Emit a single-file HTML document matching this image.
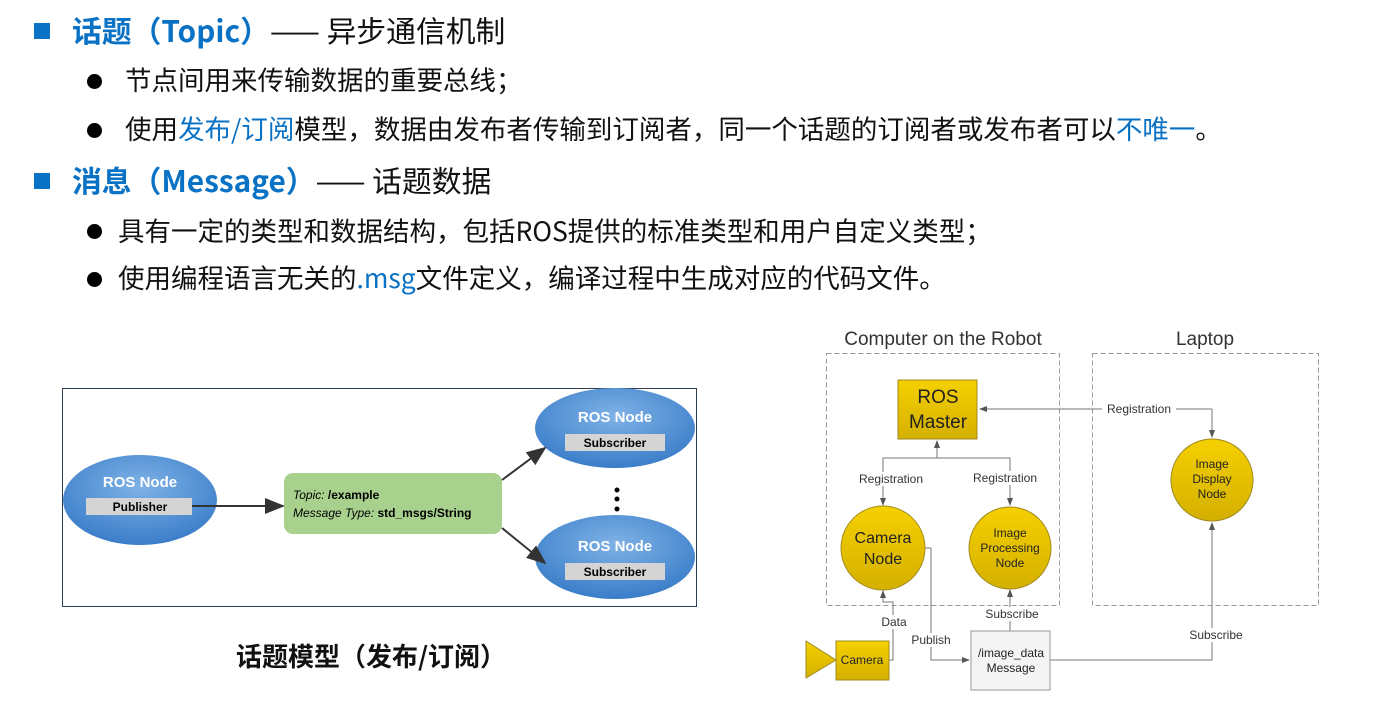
<!DOCTYPE html>
<html><head><meta charset="utf-8"><style>
body{margin:0;width:1387px;height:707px;background:#fff;position:relative;overflow:hidden;font-family:"Noto Sans CJK SC",sans-serif;color:#111}
.t{position:absolute;white-space:nowrap;line-height:1}
.h{font-size:29.8px;}
.b{color:#0a72c4;font-weight:bold}
.bl{color:#0a72c4}
.s{font-size:26.5px;}
.sq{position:absolute;width:16px;height:16px;background:#0a72c4}
.dot{position:absolute;width:15px;height:15px;border-radius:50%;background:#000}
</style></head><body>
<div class="sq" style="left:34px;top:23px"></div>
<div class="t h" style="left:72px;top:15px"><span class="b">话题（Topic）</span>—— 异步通信机制</div>
<div class="dot" style="left:87px;top:74px"></div>
<div class="t s" style="left:125px;top:66px">节点间用来传输数据的重要总线；</div>
<div class="dot" style="left:87px;top:123px"></div>
<div class="t s" style="left:125px;top:115px">使用<span class="bl">发布/订阅</span>模型，数据由发布者传输到订阅者，同一个话题的订阅者或发布者可以<span class="bl">不唯一</span>。</div>
<div class="sq" style="left:34px;top:173px"></div>
<div class="t h" style="left:72px;top:165px"><span class="b">消息（Message）</span>—— 话题数据</div>
<div class="dot" style="left:87px;top:224px"></div>
<div class="t s" style="left:118px;top:217px">具有一定的类型和数据结构，包括ROS提供的标准类型和用户自定义类型；</div>
<div class="dot" style="left:87px;top:272px"></div>
<div class="t s" style="left:118px;top:264px">使用编程语言无关的<span class="bl">.msg</span>文件定义，编译过程中生成对应的代码文件。</div>
<div class="t" style="left:236px;top:643px;font-size:26px;font-weight:bold">话题模型（发布/订阅）</div>

<svg width="1387" height="707" style="position:absolute;left:0;top:0" font-family="Liberation Sans, sans-serif">
<defs>
<radialGradient id="bg" cx="50%" cy="35%" r="65%"><stop offset="0" stop-color="#7fb2e6"/><stop offset="1" stop-color="#3a7dc9"/></radialGradient>
<linearGradient id="yg" x1="0" y1="0" x2="0" y2="1"><stop offset="0" stop-color="#f5d000"/><stop offset="1" stop-color="#d4b000"/></linearGradient>
<marker id="a" markerWidth="10" markerHeight="8" refX="9" refY="4" orient="auto"><path d="M0,0L10,4L0,8z" fill="#333"/></marker>
<marker id="g" markerWidth="8" markerHeight="8" refX="7" refY="4" orient="auto"><path d="M0,1L8,4L0,7z" fill="#555"/></marker>
</defs>
<rect x="62.5" y="388.5" width="634" height="218" fill="#fff" stroke="#2c3e50" stroke-width="1"/>
<ellipse cx="140" cy="500" rx="77" ry="45" fill="url(#bg)"/>
<ellipse cx="615" cy="428" rx="80" ry="40" fill="url(#bg)"/>
<ellipse cx="615" cy="557" rx="80" ry="42" fill="url(#bg)"/>
<text x="140" y="487" text-anchor="middle" fill="#fff" font-weight="bold" font-size="15">ROS Node</text>
<text x="615" y="422" text-anchor="middle" fill="#fff" font-weight="bold" font-size="15">ROS Node</text>
<text x="615" y="551" text-anchor="middle" fill="#fff" font-weight="bold" font-size="15">ROS Node</text>
<rect x="86" y="498" width="106" height="17" fill="#d4d4d4"/>
<text x="140" y="511" text-anchor="middle" font-weight="bold" font-size="12">Publisher</text>
<rect x="565" y="434" width="100" height="17" fill="#d4d4d4"/>
<text x="615" y="447" text-anchor="middle" font-weight="bold" font-size="12">Subscriber</text>
<rect x="565" y="563" width="100" height="17" fill="#d4d4d4"/>
<text x="615" y="576" text-anchor="middle" font-weight="bold" font-size="12">Subscriber</text>
<rect x="284" y="473" width="218" height="61" rx="9" fill="#a9d18e"/>
<text x="293" y="499" font-size="12"><tspan font-style="italic">Topic:  </tspan><tspan font-weight="bold">/example</tspan></text>
<text x="293" y="517" font-size="12"><tspan font-style="italic">Message Type:  </tspan><tspan font-weight="bold">std_msgs/String</tspan></text>
<line x1="192" y1="506" x2="283" y2="506" stroke="#333" stroke-width="2" marker-end="url(#a)"/>
<line x1="502" y1="480" x2="545" y2="448" stroke="#333" stroke-width="2" marker-end="url(#a)"/>
<line x1="502" y1="528" x2="545" y2="563" stroke="#333" stroke-width="2" marker-end="url(#a)"/>
<circle cx="617" cy="490" r="2.5" fill="#000"/><circle cx="617" cy="499" r="2.5" fill="#000"/><circle cx="617" cy="509" r="2.5" fill="#000"/>
<g fill="none" stroke="#999" stroke-dasharray="5,3"><rect x="826.5" y="353.5" width="233" height="252"/><rect x="1092.5" y="353.5" width="226" height="252"/></g>
<text x="943" y="345" text-anchor="middle" font-size="19" fill="#333">Computer on the Robot</text>
<text x="1205" y="345" text-anchor="middle" font-size="19" fill="#333">Laptop</text>
<g stroke="#777" fill="none">
<polyline points="1212,409 980,409" marker-end="url(#g)"/>
<polyline points="937,458 937,441" marker-end="url(#g)"/>
<polyline points="883,505 883,458 1010,458 1010,504" />
<line x1="883" y1="490" x2="883" y2="505" marker-end="url(#g)"/>
<line x1="1010" y1="490" x2="1010" y2="505" marker-end="url(#g)"/>
<line x1="1212" y1="409" x2="1212" y2="437" marker-end="url(#g)"/>
<polyline points="889,660 893,660 893,602 883,602 883,591" marker-end="url(#g)"/>
<polyline points="924,548 931,548 931,660 969,660" marker-end="url(#g)"/>
<polyline points="1010,631 1010,590" marker-end="url(#g)"/>
<polyline points="1050,660 1212,660 1212,523" marker-end="url(#g)"/>
</g>
<g font-size="12" fill="#333" text-anchor="middle">
<rect x="1102" y="402" width="74" height="14" fill="#fff"/>
<text x="1139" y="413">Registration</text>
<rect x="853" y="472" width="76" height="14" fill="#fff"/>
<text x="891" y="483">Registration</text>
<rect x="966" y="471" width="76" height="14" fill="#fff"/>
<text x="1005" y="482">Registration</text>
<rect x="879" y="615" width="30" height="14" fill="#fff"/>
<text x="894" y="626">Data</text>
<rect x="910" y="633" width="44" height="14" fill="#fff"/>
<text x="931" y="644">Publish</text>
<rect x="984" y="607" width="54" height="14" fill="#fff"/>
<text x="1012" y="618">Subscribe</text>
<rect x="1186" y="628" width="54" height="14" fill="#fff"/>
<text x="1216" y="639">Subscribe</text>
</g>
<rect x="898" y="380" width="79" height="59" fill="url(#yg)" stroke="#a08a20"/>
<text x="938" y="403" text-anchor="middle" font-size="19" fill="#222">ROS</text>
<text x="938" y="428" text-anchor="middle" font-size="19" fill="#222">Master</text>
<circle cx="883" cy="548" r="42" fill="url(#yg)" stroke="#a08a20"/>
<text x="883" y="543" text-anchor="middle" font-size="16" fill="#222">Camera</text>
<text x="883" y="564" text-anchor="middle" font-size="16" fill="#222">Node</text>
<circle cx="1010" cy="548" r="41" fill="url(#yg)" stroke="#a08a20"/>
<text x="1010" y="537" text-anchor="middle" font-size="12" fill="#222">Image</text>
<text x="1010" y="552" text-anchor="middle" font-size="12" fill="#222">Processing</text>
<text x="1010" y="567" text-anchor="middle" font-size="12" fill="#222">Node</text>
<circle cx="1212" cy="480" r="41" fill="url(#yg)" stroke="#a08a20"/>
<text x="1212" y="468" text-anchor="middle" font-size="12" fill="#222">Image</text>
<text x="1212" y="483" text-anchor="middle" font-size="12" fill="#222">Display</text>
<text x="1212" y="498" text-anchor="middle" font-size="12" fill="#222">Node</text>
<polygon points="806,641 836,660 806,678" fill="url(#yg)" stroke="#a08a20"/>
<rect x="836" y="641" width="53" height="39" fill="url(#yg)" stroke="#a08a20"/>
<text x="862" y="664" text-anchor="middle" font-size="12" fill="#222">Camera</text>
<rect x="971" y="631" width="79" height="59" fill="#f4f4f4" stroke="#999"/>
<text x="1011" y="657" text-anchor="middle" font-size="12" fill="#222">/image_data</text>
<text x="1011" y="672" text-anchor="middle" font-size="12" fill="#222">Message</text>
</svg>
</body></html>
